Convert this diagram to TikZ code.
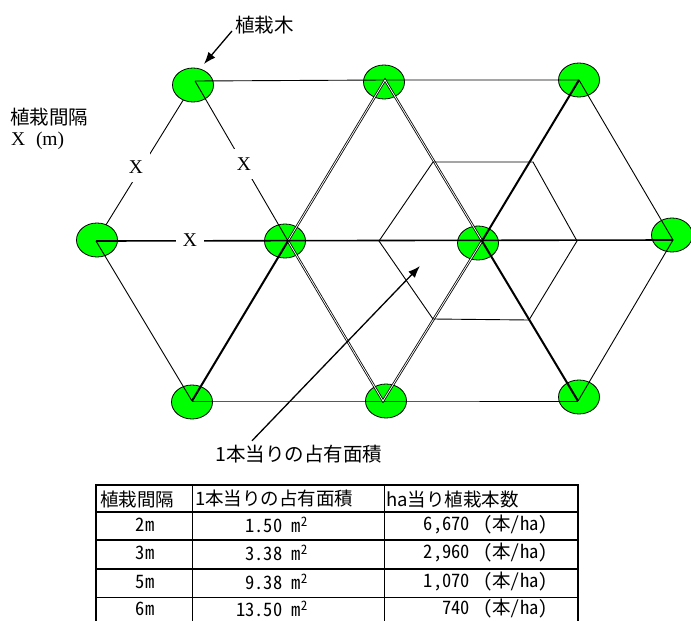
\documentclass[tikz,border=0pt]{standalone}
\usepackage{fontspec}
\setmainfont{Liberation Serif}
\newfontfamily\jpfont{Noto Sans CJK JP}
\newfontfamily\jphalf[CharacterWidth=Half]{Noto Sans CJK JP}
\usetikzlibrary{shapes.geometric,arrows.meta}
\tikzset{
	treedot/.style={ellipse, draw=black, line width=0.8pt, fill=green, minimum width=41pt, minimum height=34pt, inner sep=0pt},
	thinline/.style={line width=0.9pt},
	midline/.style={line width=1.6pt},
	boldline/.style={line width=2pt},
	dblline/.style={double, line width=0.8pt, double distance=0.8pt},
	distlabel/.style={fill=white, inner xsep=7pt, inner ysep=9pt, font=\fontsize{19.5}{22}\selectfont},
	jplabel/.style={inner sep=0pt, font=\jpfont\fontsize{19.5}{22}\selectfont},
	cellhead/.style={inner sep=0pt, font=\jpfont\fontsize{18.5}{22}\selectfont},
	celltext/.style={inner sep=0pt, font=\jphalf\fontsize{18.5}{22}\selectfont},
	pointer/.style={-{Latex[length=12pt,width=9pt]}, line width=1.3pt}
}

\begin{document}
\begin{tikzpicture}[x=1pt,y=-1pt]
	%%%%% START %%%%%
	\useasboundingbox (0,0) rectangle (691,621);
	
	% lattice vertices
	\coordinate (vA) at (195,81);
	\coordinate (vB) at (385,80);
	\coordinate (vC) at (579,80);
	\coordinate (vD) at (96,241);
	\coordinate (vE) at (288,241);
	\coordinate (vF) at (482,241);
	\coordinate (vG) at (673,240);
	\coordinate (vH) at (192,401);
	\coordinate (vI) at (383,401);
	\coordinate (vJ) at (578,401);
	
	% cell of one tree
	\coordinate (hx1) at (379,241);
	\coordinate (hx2) at (433,162);
	\coordinate (hx3) at (533,162);
	\coordinate (hx4) at (577,241);
	\coordinate (hx5) at (529,320);
	\coordinate (hx6) at (433,319);
	
	\draw[thinline] (vA) -- (vD);
	\node[distlabel] (xad) at (136,167) {X};
	
	% trees
	\node[treedot] (t1) at (193,85) {};
	\node[treedot] (t2) at (384,82) {};
	\node[treedot] (t3) at (579,80) {};
	\node[treedot] (m0) at (97,240) {};
	\node[treedot] (m1) at (285,241) {};
	\node[treedot] (m2) at (478,243) {};
	\node[treedot] (m3) at (672,235) {};
	\node[treedot] (b1) at (192,402) {};
	\node[treedot] (b2) at (386,401) {};
	\node[treedot] (b3) at (579,397) {};
	
	\draw[thinline] (vA) -- (vB) -- (vC);
	\draw[thinline] (vH) -- (vI) -- (vJ);
	\draw[thinline] (vA) -- (vE);
	\draw[thinline] (vD) -- (vH);
	\draw[thinline] (vC) -- (vG) -- (vJ);
	
	\draw[dblline] (vE) -- (vB) -- (vF) -- (vI) -- cycle;
	\draw[thinline] (hx1) -- (hx2) -- (hx3) -- (hx4) -- (hx5) -- (hx6) -- cycle;
	
	\draw[midline] (vD) -- (vG);
	\draw[boldline] (vH) -- (vE);
	\draw[boldline] (vC) -- (vF) -- (vJ);
	
	\node[distlabel] (xae) at (244,164) {X};
	\node[distlabel] (xde) at (190,240) {X};
	
	% labels and arrows
	\node[jplabel, anchor=west] (treelbl) at (235,25) {植栽木};
	\coordinate (treetip) at (204,64);
	\draw[pointer] ([xshift=-3pt,yshift=-6pt]treelbl.west) -- (treetip);
	
	\node[jplabel, anchor=west] (spacelbl) at (10,117) {植栽間隔};
	\node[inner sep=0pt, anchor=base west, font=\fontsize{19.5}{22}\selectfont] (spaceunit) at (11,145) {X\hspace{0.55em}(m)};
	
	\node[jplabel, anchor=west] (arealbl) at (215,454) {1本当りの占有面積};
	\coordinate (areatip) at (420,266);
	\draw[pointer] ([xshift=37pt,yshift=4pt]arealbl.north west) -- (areatip);
	
	% table
	\draw[line width=2pt] (96,485) -- (578,485);
	\draw[line width=1.5pt] (96,512) -- (578,512);
	\draw[line width=1.2pt] (96,540) -- (578,540);
	\draw[line width=2pt] (96,569) -- (578,569);
	\draw[line width=0.9pt] (96,597) -- (578,597);
	\draw[line width=2pt] (96,484) -- (96,625);
	\draw[line width=1pt] (192,485) -- (192,625);
	\draw[line width=1pt] (384,485) -- (384,625);
	\draw[line width=2pt] (578,484) -- (578,625);
	
	\node[cellhead, anchor=west] (hd1) at (100,499) {植栽間隔};
	\node[cellhead, anchor=west] (hd2) at (195,499) {1本当りの占有面積};
	\node[cellhead, anchor=west] (hd3) at (386,499) {ha当り植栽本数};
	
	\node[celltext] (r1c1) at (145,525) {2m};
	\node[celltext, anchor=east] (r1c2) at (308,525) {1.50 m\textsuperscript{2}};
	\node[celltext, anchor=east] (r1c3) at (548,525) {6,670\hspace{0.7em}(本/ha)};
	
	\node[celltext] (r2c1) at (145,553) {3m};
	\node[celltext, anchor=east] (r2c2) at (308,553) {3.38 m\textsuperscript{2}};
	\node[celltext, anchor=east] (r2c3) at (548,553) {2,960\hspace{0.7em}(本/ha)};
	
	\node[celltext] (r3c1) at (145,582) {5m};
	\node[celltext, anchor=east] (r3c2) at (308,582) {9.38 m\textsuperscript{2}};
	\node[celltext, anchor=east] (r3c3) at (548,582) {1,070\hspace{0.7em}(本/ha)};
	
	\node[celltext] (r4c1) at (145,609) {6m};
	\node[celltext, anchor=east] (r4c2) at (308,609) {13.50 m\textsuperscript{2}};
	\node[celltext, anchor=east] (r4c3) at (548,609) {740\hspace{0.7em}(本/ha)};
	
	%%%%% END %%%%%
\end{tikzpicture}
\end{document}
